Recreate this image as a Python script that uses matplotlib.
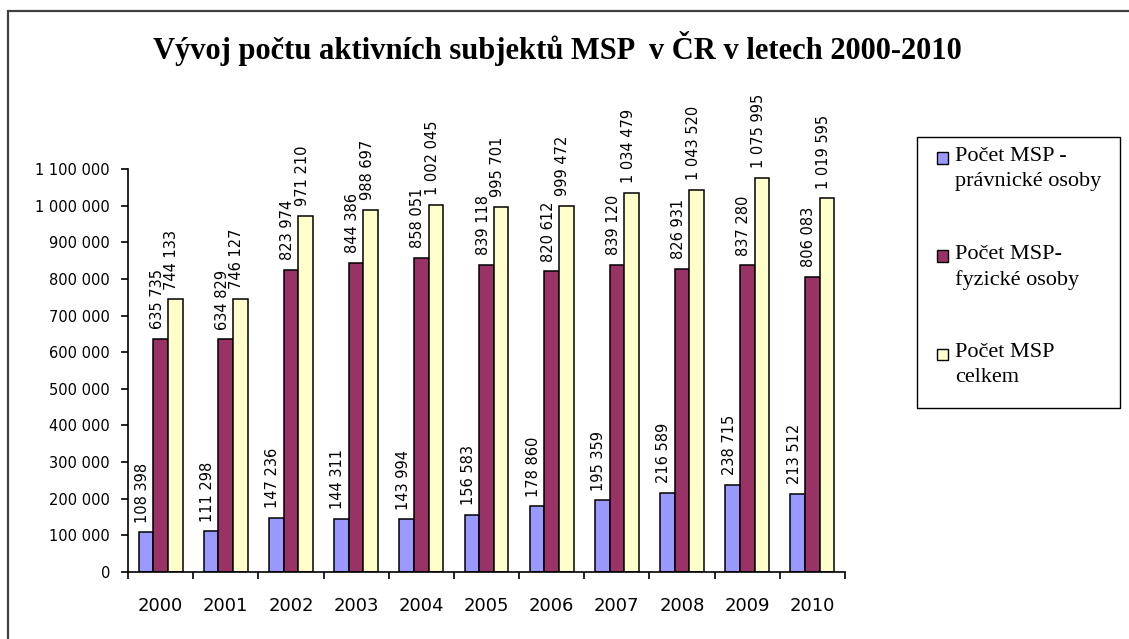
import matplotlib
matplotlib.use("Agg")
import matplotlib.pyplot as plt
from matplotlib.patches import Rectangle
import numpy as np

roky = ["2000", "2001", "2002", "2003", "2004", "2005", "2006", "2007", "2008", "2009", "2010"]
pravnicke = [108398, 111298, 147236, 144311, 143994, 156583, 178860, 195359, 216589, 238715, 213512]
fyzicke = [635735, 634829, 823974, 844386, 858051, 839118, 820612, 839120, 826931, 837280, 806083]
celkem = [744133, 746127, 971210, 988697, 1002045, 995701, 999472, 1034479, 1043520, 1075995, 1019595]

nazvy = ["Počet MSP -\nprávnické osoby", "Počet MSP-\nfyzické osoby", "Počet MSP\ncelkem"]
barvy = ["#9999FF", "#993366", "#FFFFCC"]
titulek = "Vývoj počtu aktivních subjektů MSP  v ČR v letech 2000-2010"

W, H = 1129, 639


def cislo(v):
    return f"{v:,}".replace(",", " ")


def fx(px):
    return px / W


def fy(py):
    return 1 - py / H


fig = plt.figure(figsize=(W / 100, H / 100), dpi=100)
fig.patch.set_facecolor("white")

# ramecek okolo grafu (jen levy a horni okraj je videt)
fig.add_artist(Rectangle((fx(8), -0.1), 1.2, fy(11) + 0.1,
                         transform=fig.transFigure, fill=False,
                         edgecolor="#404040", linewidth=1.6, clip_on=False))

ax = fig.add_axes([fx(128), fy(572), fx(845 - 128), (572 - 169) / H])

x = np.arange(len(roky))
w = 0.225
for i, (data, barva) in enumerate(zip([pravnicke, fyzicke, celkem], barvy)):
    ax.bar(x + (i - 1) * w, data, w, color=barva, edgecolor="black", linewidth=1.1)
    for xi, v in zip(x + (i - 1) * w, data):
        ax.annotate(cislo(v), (xi, v), xytext=(-2.5, 7), textcoords="offset points",
                    rotation=90, ha="center", va="bottom", fontsize=10.5,
                    family="DejaVu Sans")

ax.set_xlim(-0.5, len(roky) - 0.5)
ax.set_ylim(0, 1100000)
ax.set_yticks(np.arange(0, 1100001, 100000))
ax.set_yticklabels([cislo(v) for v in np.arange(0, 1100001, 100000)], fontsize=10.5)
ax.set_xticks(x)
ax.set_xticklabels(roky, fontsize=13)
ax.set_xticks(np.arange(-0.5, len(roky)), minor=True)
ax.tick_params(axis="x", which="major", length=0, pad=18)
ax.tick_params(axis="x", which="minor", length=5, width=1.2, direction="out")
ax.tick_params(axis="y", length=5, width=1.2, pad=8)

for s in ["top", "right"]:
    ax.spines[s].set_visible(False)
for s in ["left", "bottom"]:
    ax.spines[s].set_linewidth(1.2)

fig.text(fx(557), fy(48), titulek, ha="center", va="center",
         fontsize=22, fontweight="bold", family="Liberation Serif")

# legenda
fig.add_artist(Rectangle((fx(917), fy(408)), fx(1120 - 917), (408 - 137) / H,
                         transform=fig.transFigure, facecolor="white",
                         edgecolor="black", linewidth=1.0))
for j, (nazev, barva) in enumerate(zip(nazvy, barvy)):
    yc = 158 + j * 98
    fig.add_artist(Rectangle((fx(937), fy(yc + 5.5)), fx(11), 11 / H,
                             transform=fig.transFigure, facecolor=barva,
                             edgecolor="black", linewidth=1.0))
    fig.text(fx(955), fy(yc - 11), nazev, ha="left", va="top",
             fontsize=16, family="Liberation Serif", linespacing=1.4)

fig.savefig("out.png", dpi=100)
